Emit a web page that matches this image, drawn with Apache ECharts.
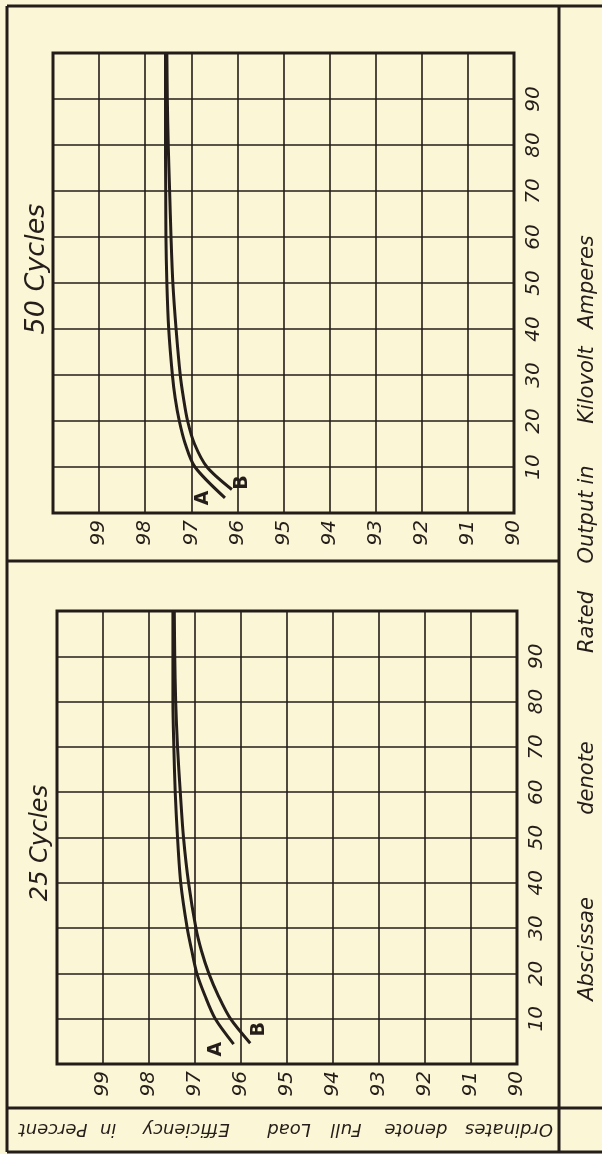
<!DOCTYPE html>
<html><head><meta charset="utf-8">
<script src="https://cdn.jsdelivr.net/npm/echarts@6/dist/echarts.min.js"></script>
<style>html,body{margin:0;padding:0;background:#FAF6D6;}#c{width:602px;height:1154px;}</style>
</head><body><div id="c"></div>
<script>
// ---- data (full load efficiency % vs rated output kVA) ----
const effTicks = [90, 91, 92, 93, 94, 95, 96, 97, 98, 99];
const kvaTicks = [10, 20, 30, 40, 50, 60, 70, 80, 90];
const titles = ['50 Cycles', '25 Cycles'];

const A50_kva = [3.3, 10, 15, 20, 25, 30, 40, 50, 60, 70, 80, 90, 100];
const A50_eff = [96.27, 96.92, 97.13, 97.26, 97.35, 97.41, 97.49, 97.53, 97.55, 97.555, 97.56, 97.56, 97.56];
const B50_kva = [5.1, 10, 15, 20, 25, 30, 40, 50, 60, 70, 80, 90, 100];
const B50_eff = [96.12, 96.66, 96.93, 97.08, 97.17, 97.24, 97.33, 97.40, 97.44, 97.47, 97.50, 97.52, 97.53];

const A25_kva = [4.4, 10, 15, 20, 25, 30, 40, 50, 60, 70, 80, 90, 100];
const A25_eff = [96.16, 96.56, 96.78, 96.96, 97.07, 97.17, 97.31, 97.38, 97.43, 97.46, 97.48, 97.48, 97.48];
const B25_kva = [4.6, 10, 15, 20, 25, 30, 40, 50, 60, 70, 80, 90, 100];
const B25_eff = [95.80, 96.23, 96.49, 96.70, 96.86, 96.98, 97.14, 97.25, 97.32, 97.38, 97.42, 97.44, 97.45];

const ink = '#241d19';
const bg = '#FAF6D6';
const font = '"DejaVu Sans", sans-serif';

function zip(e, k) { return e.map((v, i) => [v, k[i]]); }

const chart = echarts.init(document.getElementById('c'), null, {renderer: 'canvas'});

const grids = [
  {left: 53, top: 53, width: 461, height: 460},
  {left: 57, top: 611, width: 460, height: 453}
];

function xAx(i) {
  return {
    gridIndex: i, type: 'value', min: 90, max: 100, interval: 1, inverse: true, position: 'bottom',
    axisLine: {show: false}, axisTick: {show: false},
    splitLine: {show: true, lineStyle: {color: ink, width: 1.6}},
    axisLabel: {
      rotate: 90, margin: 7, color: ink, fontSize: 20, fontStyle: 'italic', fontFamily: font,
      showMaxLabel: true, showMinLabel: true,
      formatter: v => effTicks.includes(v) ? String(v) : ''
    }
  };
}
function yAx(i) {
  return {
    gridIndex: i, type: 'value', min: 0, max: 100, interval: 10, position: 'right',
    axisLine: {show: false}, axisTick: {show: false},
    splitLine: {show: true, lineStyle: {color: ink, width: 1.6}},
    axisLabel: {
      rotate: 90, margin: 10, color: ink, fontSize: 20, fontStyle: 'italic', fontFamily: font,
      formatter: v => kvaTicks.includes(v) ? String(v) : ''
    }
  };
}
function curve(i, e, k) {
  return {
    type: 'line', xAxisIndex: i, yAxisIndex: i, data: zip(e, k), smooth: 0.3,
    symbol: 'none', lineStyle: {color: ink, width: 3}, z: 5, animation: false
  };
}

const option = {
  backgroundColor: bg,
  animation: false,
  grid: grids.map(g => Object.assign({show: true, borderWidth: 3, borderColor: ink, backgroundColor: 'transparent'}, g)),
  xAxis: [xAx(0), xAx(1)],
  yAxis: [yAx(0), yAx(1)],
  series: [
    curve(0, A50_eff, A50_kva), curve(0, B50_eff, B50_kva),
    curve(1, A25_eff, A25_kva), curve(1, B25_eff, B25_kva)
  ]
};
chart.setOption(option);

// ---- frame and texts ----
function line(x1, y1, x2, y2, w) {
  return {type: 'line', shape: {x1, y1, x2, y2}, style: {stroke: ink, lineWidth: w || 3}, z: 10, silent: true};
}
function txt(text, x, y, size, rot) {
  return {
    type: 'text', x, y, rotation: rot, z: 10, silent: true,
    style: {text, fill: ink, font: 'italic ' + size + 'px ' + font, textAlign: 'center', textVerticalAlign: 'middle'}
  };
}
const g = [
  line(7, 6, 602, 6, 3),
  line(7, 6, 7, 1152, 3),
  line(7, 1152, 602, 1152, 3),
  line(559, 6, 559, 1152, 3),
  line(7, 561, 559, 561, 3),
  line(7, 1108, 602, 1108, 3),
  txt(titles[0], 37, 269, 27, Math.PI / 2),
  txt(titles[1], 41, 843, 24, Math.PI / 2)
];
// right-hand caption, words spaced as in the drawing (reads bottom to top)
const capR = [['Abscissae', 949], ['denote', 778], ['Rated', 622], ['Output', 527], ['in', 475], ['Kilovolt', 385], ['Amperes', 282]];
capR.forEach(([w, y]) => g.push(txt(w, 588, y, 21, Math.PI / 2)));
// bottom caption (upside down)
const capB = [['Ordinates', 509], ['denote', 416], ['Full', 346], ['Load', 289], ['Efficiency', 186], ['in', 108], ['Percent', 53]];
capB.forEach(([w, x]) => g.push(txt(w, x, 1129, 18, Math.PI)));

// curve letters placed next to the start of each curve
function letter(ch, gi, e, k, dx, dy) {
  const p = chart.convertToPixel({gridIndex: gi}, [e, k]);
  return {
    type: 'text', x: p[0] + dx, y: p[1] + dy, rotation: Math.PI / 2, z: 10, silent: true,
    style: {text: ch, fill: ink, font: 'bold 19px ' + font, textAlign: 'center', textVerticalAlign: 'middle'}
  };
}
g.push(letter('A', 0, A50_eff[0], A50_kva[0], -22, 0));
g.push(letter('B', 0, B50_eff[0], B50_kva[0], 10, -7));
g.push(letter('A', 1, A25_eff[0], A25_kva[0], -18, 5));
g.push(letter('B', 1, B25_eff[0], B25_kva[0], 9, -14));
chart.setOption({graphic: g});
</script></body></html>
